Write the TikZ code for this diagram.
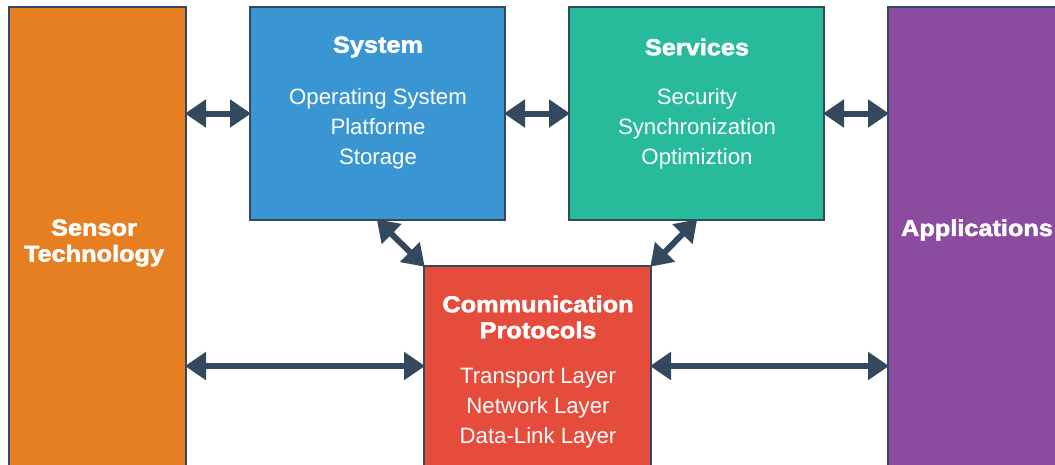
\documentclass[tikz,border=0pt]{standalone}
\usepackage{fontspec}
\setmainfont{Liberation Sans}
\newfontfamily\headfont{Liberation Sans Bold}[FakeBold=2.2, FakeStretch=1.1]
\usetikzlibrary{arrows.meta}
\definecolor{edge}{HTML}{34495E}
\definecolor{orangebox}{HTML}{E67E22}
\definecolor{bluebox}{HTML}{3A96D3}
\definecolor{tealbox}{HTML}{27BB9B}
\definecolor{purplebox}{HTML}{8B4B9F}
\definecolor{redbox}{HTML}{E64C3C}
\tikzset{
  block/.style={draw=edge, line width=2pt, inner sep=0pt, outer sep=0pt, rectangle},
  head/.style={text=white, font=\headfont\fontsize{23}{27}\selectfont, align=center},
  body/.style={text=white, font=\fontsize{22.2}{30}\selectfont, align=center},
  link/.style={draw=edge, line width=6pt, {Triangle[length=21pt,width=27pt]}-{Triangle[length=21pt,width=27pt]}, shorten <=-1pt, shorten >=-1pt}
}
\begin{document}
\begin{tikzpicture}[x=1pt,y=-1pt]
\useasboundingbox (0,0) rectangle (1055,464);
\clip (0,0) rectangle (1055,464);

% boxes
\node[block, fill=orangebox, minimum width=177pt, minimum height=473pt] (sensor) at (97.5,243.5) {};
\node[block, fill=bluebox, minimum width=255pt, minimum height=213pt] (sys) at (377.5,113.5) {};
\node[block, fill=tealbox, minimum width=255pt, minimum height=213pt] (srv) at (696.5,113.5) {};
\node[block, fill=purplebox, minimum width=177pt, minimum height=473pt] (app) at (976.5,243.5) {};
\node[block, fill=redbox, minimum width=227pt, minimum height=200pt] (comm) at (537.5,366) {};

% texts
\node[head] (sensor-t) at (94,243) {Sensor\\[-1pt]Technology};
\node[head] (app-t) at (977,230) {Applications};
\node[head] (sys-t) at (378,47) {System};
\node[body] (sys-b) at (378,129) {Operating System\\Platforme\\Storage};
\node[head] (srv-t) at (697,47) {Services};
\node[body] (srv-b) at (697,129) {Security\\Synchronization\\Optimiztion};
\node[head] (comm-t) at (538,317) {Communication\\[-1pt]Protocols};
\node[body] (comm-b) at (538,408) {Transport Layer\\Network Layer\\Data-Link Layer};

% connectors
\draw[link] (sensor.east |- sys.west) -- (sys.west);
\draw[link] (sys.east) -- (srv.west);
\draw[link] (srv.east) -- (app.west |- srv.east);
\draw[link] (sys.south) -- (comm.north west);
\draw[link] (srv.south) -- (comm.north east);
\draw[link] (sensor.east |- comm.west) -- (comm.west);
\draw[link] (comm.east) -- (app.west |- comm.east);
\end{tikzpicture}
\end{document}
